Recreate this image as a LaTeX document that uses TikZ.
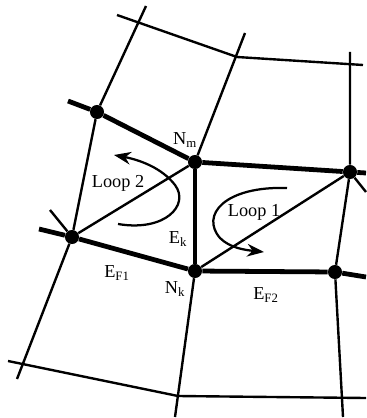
\documentclass[tikz,border=0pt]{standalone}
\usepackage{fontspec}
\setmainfont{Liberation Serif}
\usetikzlibrary{arrows.meta}
\usetikzlibrary{positioning}

\begin{document}
\begin{tikzpicture}[
    x=0.025cm, y=-0.025cm,
    dot/.style={circle, fill, inner sep=0pt, minimum size=10pt},
    thinline/.style={line width=1.7pt},
    thickline/.style={line width=3.4pt},
    looparrow/.style={line width=1.6pt, -{Stealth[length=12pt, width=9pt]}},
    lbl/.style={font=\fontsize{13}{15}\selectfont, inner sep=0pt},
    >=stealth
]
\useasboundingbox (0,0) rectangle (366,418);

% --- Nodes of the mesh ---
\node[dot] (a)  at (97,112)  {};
\node[dot] (nm) at (195,162) {};
\node[dot] (r)  at (350,172) {};
\node[dot] (l)  at (72,237)  {};
\node[dot] (nk) at (195,271) {};
\node[dot] (r2) at (335,272) {};

% --- Free ends ---
\coordinate (t1) at (117,15);
\coordinate (t2) at (237,57);
\coordinate (t3) at (363,65);
\coordinate (t4) at (146,6);
\coordinate (t5) at (245,33);
\coordinate (t6) at (350,52);
\coordinate (b1) at (17,379);
\coordinate (b2) at (175,417);
\coordinate (b3) at (343,417);
\coordinate (b4) at (8,361);
\coordinate (b5) at (178,396);
\coordinate (b6) at (366,398);
\coordinate (a0) at (68,101);
\coordinate (r0) at (366,173);
\coordinate (r1) at (366,192);
\coordinate (l0) at (39,229);
\coordinate (l1) at (50,210);
\coordinate (r3) at (366,277);

% --- Thin grid lines ---
\draw[thinline] (t1) -- (t2) -- (t3);
\draw[thinline] (t4) -- (a) -- (l) -- (b1);
\draw[thinline] (t5) -- (nm);
\draw[thinline] (nk) -- (b2);
\draw[thinline] (t6) -- (r) -- (r2) -- (b3);
\draw[thinline] (b4) -- (b5) -- (b6);
\draw[thinline] (l) -- (nm);
\draw[thinline] (nk) -- (r);
\draw[thinline] (l) -- (l1);
\draw[thinline] (r) -- (r1);

% --- Thick edges ---
\draw[thickline] (a0) -- (a) -- (nm) -- (r) -- (r0);
\draw[thickline] (nm) -- (nk);
\draw[thickline] (l0) -- (l) -- (nk) -- (r2) -- (r3);

% --- Loop arrows ---
\coordinate (lp2) at (118,224);
\coordinate (lp2e) at (114,155);
\draw[looparrow] (lp2) .. controls (165,232) and (190,205) .. (175,185)
    .. controls (162,168) and (140,160) .. (lp2e);
\coordinate (lp1) at (287,188);
\coordinate (lp1e) at (264,252);
\draw[looparrow] (lp1) .. controls (225,186) and (200,215) .. (220,238)
    .. controls (230,248) and (245,250) .. (lp1e);

% --- Labels ---
\node[lbl] (lnm) at (185,140) {N\textsubscript{m}};
\node[lbl] (lloop2) at (118,183) {Loop 2};
\node[lbl] (lloop1) at (254,212) {Loop 1};
\node[lbl] (lek) at (178,239) {E\textsubscript{k}};
\node[lbl] (lef1) at (117,273) {E\textsubscript{F1}};
\node[lbl] (lnk) at (175,289) {N\textsubscript{k}};
\node[lbl] (lef2) at (266,295) {E\textsubscript{F2}};

\end{tikzpicture}
\end{document}
